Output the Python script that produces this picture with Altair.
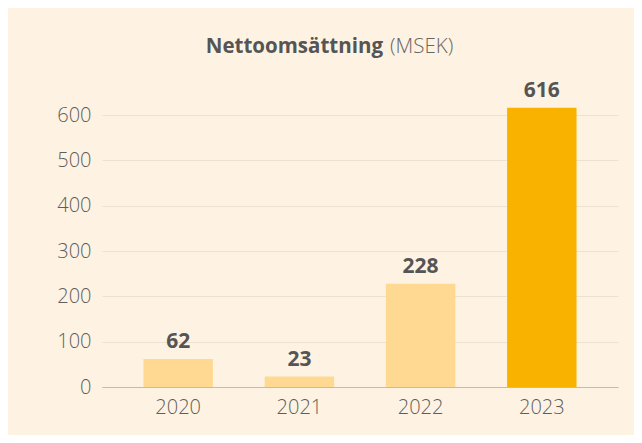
import altair as alt
import pandas as pd

years = ["2020", "2021", "2022", "2023"]
values = [62, 23, 228, 616]
title_bold = "Nettoomsättning"
title_light = "(MSEK)"
y_ticks = [0, 50, 100, 150, 200, 250, 300, 350, 400, 450, 500, 550, 600]

df = pd.DataFrame({"year": years, "value": values})

FONT = "Open Sans"
BG = "#FEF3E2"

x_enc = alt.X("year:N", sort=years, title=None,
              scale=alt.Scale(paddingInner=0.427, paddingOuter=0.342),
              axis=alt.Axis(labelAngle=0, ticks=False, domain=True, domainColor="#C2BBB2",
                            labelFont=FONT, labelFontSize=20, labelFontWeight=300,
                            labelColor="#5E5E5E", labelPadding=10, grid=False))
y_enc = alt.Y("value:Q", title=None,
              scale=alt.Scale(domain=[0, 600], nice=False, clamp=False),
              axis=alt.Axis(values=y_ticks, ticks=False, domain=False,
                            labelExpr="datum.value % 100 == 0 ? datum.label : ''",
                            labelFont=FONT, labelFontSize=20, labelFontWeight=300,
                            labelColor="#5E5E5E", labelPadding=11,
                            grid=True, gridColor="#ECE2D4", gridWidth=1.2))

base = alt.Chart(df)

bars = base.mark_bar(clip=False).encode(
    x=x_enc,
    y=y_enc,
    color=alt.condition(alt.datum.year == "2023", alt.value("#F9B200"), alt.value("#FFD991")),
)

labels = base.mark_text(font=FONT, fontSize=21, fontWeight="bold", color="#555555",
                        baseline="bottom", dy=-7).encode(
    x=alt.X("year:N", sort=years),
    y=alt.Y("value:Q"),
    text=alt.Text("value:Q"),
)

t1 = alt.Chart(pd.DataFrame({"t": [title_bold]})).mark_text(
    font=FONT, fontSize=20.5, fontWeight="bold", color="#555555", align="right", baseline="middle"
).encode(text="t:N", x=alt.value(281), y=alt.value(-68))

t2 = alt.Chart(pd.DataFrame({"t": [title_light]})).mark_text(
    font=FONT, fontSize=20.5, fontWeight=300, color="#666666", align="left", baseline="middle"
).encode(text="t:N", x=alt.value(288), y=alt.value(-68))

chart = alt.layer(bars, labels, t1, t2).properties(
    width=516, height=272,
    background=BG,
    padding={"left": 94, "top": 107, "right": 16, "bottom": 48},
    autosize=alt.AutoSizeParams(type="none"),
).configure_view(stroke=None)

chart.save("out.html", embed_options={"renderer": "svg", "actions": False})
